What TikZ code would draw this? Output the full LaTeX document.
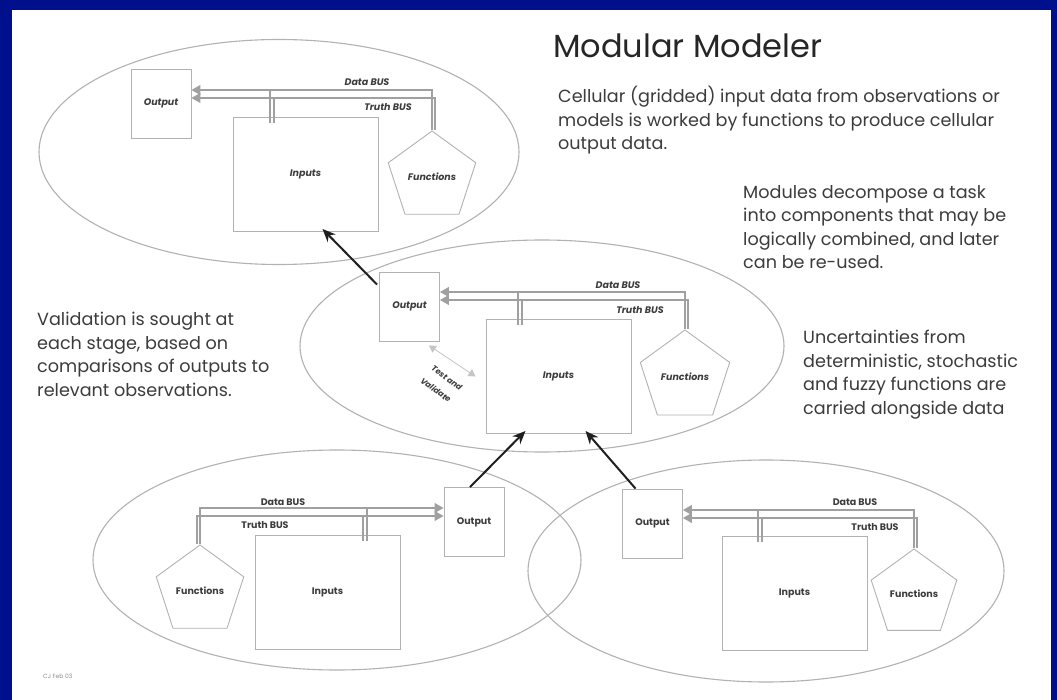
\documentclass[tikz,border=0pt]{standalone}
\usepackage{fontspec}
\setmainfont{Poppins}
\newfontfamily\lblfont{Poppins}
\usetikzlibrary{shapes.geometric,arrows.meta,calc}
\definecolor{bgblue}{RGB}{0,16,140}
\definecolor{linegray}{RGB}{178,178,178}
\definecolor{busgray}{RGB}{160,160,160}
\definecolor{txtgray}{RGB}{60,60,60}
\begin{document}
\begin{tikzpicture}[x=1pt,y=-1pt,
  ell/.style={draw=linegray, line width=1.1pt, ellipse, inner sep=0pt},
  box/.style={draw=linegray, line width=0.9pt, fill=white, inner sep=0pt, text=txtgray,
    font=\lblfont\bfseries\itshape\fontsize{9.5}{11}\selectfont},
  boxup/.style={box, font=\lblfont\bfseries\fontsize{9.5}{11}\selectfont},
  outbox/.style={minimum width=60pt, minimum height=69pt},
  inbox/.style={minimum width=145pt, minimum height=114pt},
  func/.style={regular polygon, regular polygon sides=5},
  bus/.style={draw=busgray, line width=1.1pt},
  busarrow/.style={bus, -{Triangle[length=9pt,width=10pt]}},
  buslbl/.style={inner sep=0pt, text=txtgray, font=\lblfont\bfseries\itshape\fontsize{9.5}{11}\selectfont},
  buslblup/.style={buslbl, font=\lblfont\bfseries\fontsize{9.5}{11}\selectfont},
  bigarrow/.style={draw=black!88, line width=2pt, -{Stealth[length=13pt,width=11pt]}},
  tvarrow/.style={draw=busgray!60, line width=0.8pt, {Triangle[length=7pt,width=8pt]}-{Triangle[length=7pt,width=8pt]}},
  tvlbl/.style={inner sep=0pt, rotate=-36, text=txtgray, font=\lblfont\bfseries\itshape\fontsize{8}{9}\selectfont},
  para/.style={align=left, anchor=north west, inner sep=0pt, text=txtgray, font=\fontsize{17.6}{23.5}\selectfont}
]
\fill[bgblue] (0,0) rectangle (1057,700);
\fill[white] (12,10) rectangle (1051,700);
\useasboundingbox (0,0) rectangle (1057,700);

% ellipses
\node[ell, minimum width=480pt, minimum height=225pt] (e1) at (279,152) {};
\node[ell, minimum width=484pt, minimum height=212pt] (e2) at (542,346) {};
\node[ell, minimum width=488pt, minimum height=220pt] (e3) at (337,560) {};
\node[ell, minimum width=476pt, minimum height=222pt] (e4) at (766,571) {};

% ---------- top module ----------
\node[box, outbox] (Ot) at (161,103.5) {Output};
\node[box, inbox] (It) at (305.5,174.5) {Inputs};
\node[box, func, minimum size=92pt] (Ft) at (432,177) {Functions};
\coordinate (tD) at (0,90);
\coordinate (tT) at (0,98);
\coordinate (tX) at (270,0);
\draw[busarrow] (Ft.corner 1) |- (Ot.east |- tD);
\draw[busarrow] ($(Ft.corner 1)+(3,0)$) |- (Ot.east |- tT);
\draw[bus] (tX |- tD) -- ($(tX |- It.north)+(0,6)$);
\draw[bus] ($(tX |- tT)+(4,0)$) -- ($(tX |- It.north)+(4,6)$);
\node[buslbl] (tDl) at (367,82) {Data BUS};
\node[buslbl] (tTl) at (388,107) {Truth BUS};

% ---------- middle module ----------
\node[box, outbox] (Om) at (409.5,306.5) {Output};
\node[box, inbox] (Im) at (558.5,376.5) {Inputs};
\node[box, func, minimum size=94pt] (Fm) at (685,377) {Functions};
\coordinate (mD) at (0,292);
\coordinate (mT) at (0,300);
\coordinate (mX) at (518,0);
\draw[busarrow] (Fm.corner 1) |- (Om.east |- mD);
\draw[busarrow] ($(Fm.corner 1)+(3,0)$) |- (Om.east |- mT);
\draw[bus] (mX |- mD) -- ($(mX |- Im.north)+(0,6)$);
\draw[bus] ($(mX |- mT)+(4,0)$) -- ($(mX |- Im.north)+(4,6)$);
\node[buslbl] (mDl) at (618,285) {Data BUS};
\node[buslbl] (mTl) at (640,310) {Truth BUS};
\draw[tvarrow] ($(Om.south east)+(-11,4)$) -- ($(Im.west)+(-10,0)$);
\node[tvlbl] (tv1) at (447,378) {Test and};
\node[tvlbl] (tv2) at (436,390) {Validate};

% ---------- bottom-left module ----------
\node[boxup, outbox] (Obl) at (474,522) {Output};
\node[boxup, inbox] (Ibl) at (327.5,592.5) {Inputs};
\node[boxup, func, minimum size=92pt] (Fbl) at (200,591) {Functions};
\coordinate (lD) at (0,508);
\coordinate (lT) at (0,516);
\coordinate (lX) at (367,0);
\draw[busarrow] (Fbl.corner 1) |- (Obl.west |- lD);
\draw[busarrow] ($(Fbl.corner 1)+(-3,0)$) |- (Obl.west |- lT);
\draw[bus] (lX |- lD) -- ($(lX |- Ibl.north)+(0,6)$);
\draw[bus] ($(lX |- lT)+(-4,0)$) -- ($(lX |- Ibl.north)+(-4,6)$);
\node[buslblup] (lDl) at (283,502) {Data BUS};
\node[buslblup] (lTl) at (265,525) {Truth BUS};

% ---------- bottom-right module ----------
\node[boxup, outbox] (Obr) at (652.5,523.5) {Output};
\node[boxup, inbox] (Ibr) at (794.5,593) {Inputs};
\node[boxup, func, minimum size=90pt] (Fbr) at (914,594) {Functions};
\coordinate (rD) at (0,510);
\coordinate (rT) at (0,518);
\coordinate (rX) at (758,0);
\draw[busarrow] (Fbr.corner 1) |- (Obr.east |- rD);
\draw[busarrow] ($(Fbr.corner 1)+(3,0)$) |- (Obr.east |- rT);
\draw[bus] (rX |- rD) -- ($(rX |- Ibr.north)+(0,6)$);
\draw[bus] ($(rX |- rT)+(4,0)$) -- ($(rX |- Ibr.north)+(4,6)$);
\node[buslblup] (rDl) at (855,502) {Data BUS};
\node[buslblup] (rTl) at (875,527) {Truth BUS};

% ---------- black arrows between modules ----------
\draw[bigarrow] ($(Om.north west)+(-2,13)$) -- ($(It.south)+(17,-3)$);
\draw[bigarrow] ($(Obl.north)+(-4,0)$) -- ($(Im.south)+(-33,-3)$);
\draw[bigarrow] ($(Obr.north)+(-17,0)$) -- ($(Im.south)+(27,-3)$);

% ---------- texts ----------
\node[anchor=base west, inner sep=0pt, text=black!85, font=\fontsize{32}{36}\selectfont] (title) at (553,58) {Modular Modeler};
\node[para] (p1) at (558,86) {Cellular (gridded) input data from observations or\\models is worked by functions to produce cellular\\output data.};
\node[para] (p2) at (743,185) {Modules decompose a task\\into components that may be\\logically combined, and later\\can be re-used.};
\node[para] (p3) at (37,312) {Validation is sought at\\each stage, based on\\comparisons of outputs to\\relevant observations.};
\node[para] (p4) at (803,330) {Uncertainties from\\deterministic, stochastic\\and fuzzy functions are\\carried alongside data};
\node[anchor=west, inner sep=0pt, text=black!45, font=\lblfont\fontsize{6}{7}\selectfont] (sig) at (43,676) {CJ Feb 03};
\end{tikzpicture}
\end{document}
